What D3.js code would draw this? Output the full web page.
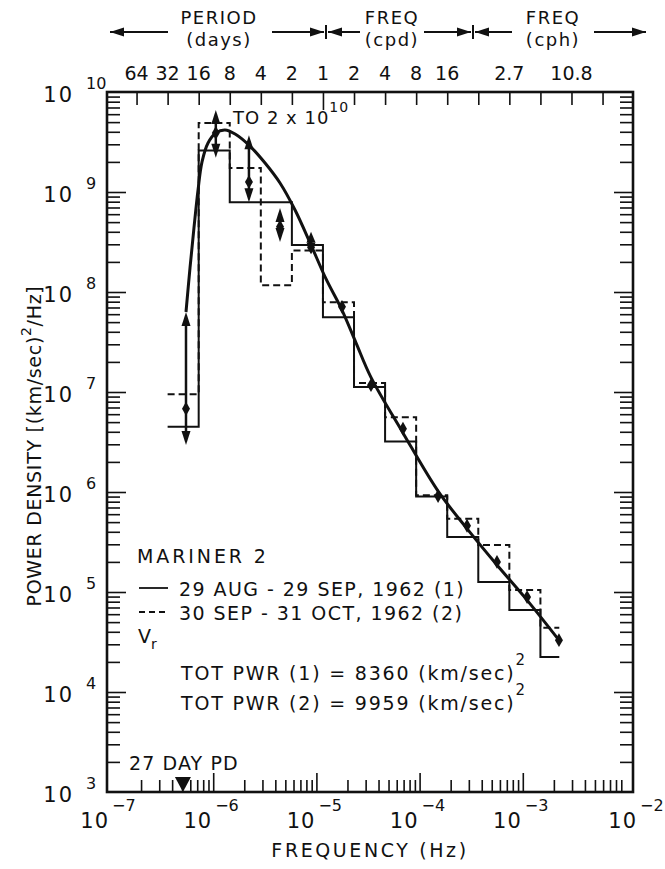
<!DOCTYPE html>
<html>
<head>
<meta charset="utf-8">
<script src="https://cdn.jsdelivr.net/npm/d3@7"></script>
<style>
  body { margin: 0; background: #fff; }
  text { font-family: "DejaVu Sans", sans-serif; fill: #111; }
</style>
</head>
<body>
<svg id="chart" width="665" height="869"></svg>
<script>
// ---- Data -------------------------------------------------------------
const SEC_PER_DAY = 86400;

// Band edges, cycles per day: octaves from 32 d, last band cut at the high-frequency limit
const bandEdgesCpd = [1/32, 1/16, 1/8, 1/4, 1/2, 1, 2, 4, 8, 16, 32, 64, 128, 195];

// Band power, (km/sec)^2/Hz, interval (1) 29 Aug - 29 Sep 1962
const power1 = [4.5e6, 2.6e9, 7.9e8, 7.9e8, 2.95e8, 5.6e7, 1.12e7, 3.2e6, 9.0e5, 3.55e5, 1.26e5, 6.6e4, 2.24e4];
// Band power, interval (2) 30 Sep - 31 Oct 1962
const power2 = [9.5e6, 4.9e9, 1.74e9, 1.17e8, 2.6e8, 7.9e7, 1.23e7, 5.6e6, 9.3e5, 5.4e5, 2.95e5, 1.05e5, 4.4e4];

// Combined estimates: frequency (Hz), power, and error range
const pointFreq  = [5.45e-7, 1.06e-6, 2.22e-6, 4.44e-6, 8.87e-6, 1.77e-5, 3.38e-5, 6.90e-5, 1.51e-4, 2.88e-4, 5.62e-4, 1.10e-3, 2.24e-3];
const pointPower = [6.8e6, 3.9e9, 1.26e9, 4.5e8, 2.8e8, 7.1e7, 1.17e7, 4.3e6, 9.1e5, 4.6e5, 2.0e5, 8.9e4, 3.3e4];
const errLow  = [2.95e6, 2.2e9, 7.9e8, 3.16e8, 2.45e8, null, null, null, null, null, null, null, null];
const errHigh = [6.3e7, 2e10, 3.7e9, 6.9e8, 4.0e8, null, null, null, null, null, null, null, null];
const errCap = 6.6e9;   // upper error arrows above this are cut short and annotated

// Smooth fitted spectrum
const fitFreq  = [5.45e-7, 5.96e-7, 6.51e-7, 7.13e-7, 7.79e-7, 8.91e-7, 1.06e-6, 1.30e-6, 1.63e-6, 2.27e-6, 3.18e-6, 4.44e-6, 6.21e-6, 8.87e-6, 1.24e-5, 1.77e-5, 2.42e-5, 3.38e-5, 6.90e-5, 1.51e-4, 2.88e-4, 5.62e-4, 1.10e-3, 2.24e-3];
const fitPower = [6.31e7, 1.74e8, 4.37e8, 1.05e9, 2.0e9, 3.09e9, 3.89e9, 4.17e9, 3.8e9, 2.88e9, 1.95e9, 1.23e9, 6.6e8, 2.95e8, 1.35e8, 6.6e7, 3.1e7, 1.4e7, 3.9e6, 1.02e6, 4.3e5, 1.86e5, 8.3e4, 3.3e4];

// Top scale: period / frequency ticks (cycles per day) and their labels
const topTickCpd = [1/64, 1/32, 1/16, 1/8, 1/4, 1/2, 1, 2, 4, 8, 16, 32, 64, 128, 256, 512];
const topLabelCpd  = [1/64, 1/32, 1/16, 1/8, 1/4, 1/2, 1, 2, 4, 8, 16, 64, 256];
const topLabelText = ["64", "32", "16", "8", "4", "2", "1", "2", "4", "8", "16", "2.7", "10.8"];

// Axis exponents
const xExponents = [-7, -6, -5, -4, -3, -2];
const yExponents = [3, 4, 5, 6, 7, 8, 9, 10];

// 27-day solar rotation marker (Hz)
const rotationFreq = 5.09e-7;

// ---- Layout -----------------------------------------------------------
const frame = { left: 107, right: 633, top: 92, bottom: 792 };
const ink = "#111";

const x = d3.scaleLog().domain([1e-7, 1e-2]).range([110, 626]);
const y = d3.scaleLog().domain([1e3, 1e10]).range([frame.bottom, frame.top]);
const cpdToHz = c => c / SEC_PER_DAY;

const svg = d3.select("#chart");
const isDecade = v => Math.abs(Math.log10(v) - Math.round(Math.log10(v))) < 1e-6;

// ---- Axes (ticks point inward) ----------------------------------------
function tickAxis(axisFn, scale, values, size, transform) {
  const g = svg.append("g").attr("transform", transform)
    .call(axisFn(scale).tickValues(values).tickSize(size).tickFormat(""));
  g.select(".domain").remove();
  g.selectAll(".tick line").attr("stroke", ink).attr("stroke-width", 1.6);
  return g;
}

const xAll = x.ticks();
const xMinor = xAll.filter(v => !isDecade(v));
const xMajor = xAll.filter(v => isDecade(v) && v > 1e-7 && v < 1e-2);
tickAxis(d3.axisTop, x, xMinor, 12, `translate(0,${frame.bottom})`);
tickAxis(d3.axisTop, x, xMajor, 19, `translate(0,${frame.bottom})`);

const yAll = y.ticks();
const yMinor = yAll.filter(v => !isDecade(v));
const yMajor = yAll.filter(v => isDecade(v) && v > 1e3 && v < 1e10);
tickAxis(d3.axisRight, y, yMinor, 13, `translate(${frame.left},0)`);
tickAxis(d3.axisRight, y, yMajor, 19, `translate(${frame.left},0)`);
tickAxis(d3.axisLeft, y, yMinor, 13, `translate(${frame.right},0)`);
tickAxis(d3.axisLeft, y, yMajor, 19, `translate(${frame.right},0)`);

const topHz = topTickCpd.map(cpdToHz);
tickAxis(d3.axisBottom, x, topHz.filter(v => v !== cpdToHz(1)), 13, `translate(0,${frame.top})`);
tickAxis(d3.axisBottom, x, [cpdToHz(1)], 18, `translate(0,${frame.top})`);

svg.append("rect")
  .attr("x", frame.left).attr("y", frame.top)
  .attr("width", frame.right - frame.left).attr("height", frame.bottom - frame.top)
  .attr("fill", "none").attr("stroke", ink).attr("stroke-width", 2.6);

// ---- Tick labels ------------------------------------------------------
const xl = svg.append("g");
xExponents.forEach(e => {
  // the corner label at 10^-2 sits a little to the right of its tick
  const px = x(Math.pow(10, e)) + (e === -2 ? 12 : 0);
  xl.append("text").attr("x", px - 1).attr("y", 828)
    .attr("text-anchor", "end").attr("font-size", 21).attr("letter-spacing", 1).text("10");
  xl.append("text").attr("x", px + 2).attr("y", 811)
    .attr("font-size", 16).text("\u2212" + Math.abs(e));
});

const yl = svg.append("g");
yExponents.forEach(e => {
  const py = y(Math.pow(10, e));
  yl.append("text").attr("x", 74).attr("y", py + 10)
    .attr("text-anchor", "end").attr("font-size", 21).attr("letter-spacing", 2).text("10");
  yl.append("text").attr("x", 86).attr("y", py - 3)
    .attr("font-size", 16).text(e);
});

svg.append("g").selectAll("text")
  .data(topLabelCpd)
  .join("text")
  .attr("x", d => x(cpdToHz(d)))
  .attr("y", 80)
  .attr("text-anchor", "middle")
  .attr("font-size", 19)
  .text((d, i) => topLabelText[i]);

// ---- Arrow helpers ----------------------------------------------------
function arrowHead(g, tipX, tipY, dx, dy, len, half) {
  const bx = tipX - dx * len, by = tipY - dy * len;
  const px = -dy * half, py = dx * half;
  g.append("path")
    .attr("d", `M${tipX},${tipY}L${bx + px},${by + py}L${bx - px},${by - py}Z`)
    .attr("fill", ink);
}
function hArrow(g, x1, x2, yy, dir) {
  g.append("line").attr("x1", x1).attr("x2", x2).attr("y1", yy).attr("y2", yy)
    .attr("stroke", ink).attr("stroke-width", 2);
  if (dir < 0) arrowHead(g, x1, yy, -1, 0, 14, 4.5);
  else arrowHead(g, x2, yy, 1, 0, 14, 4.5);
}

// ---- Header: period / frequency ranges --------------------------------
const hdr = svg.append("g");
const arrowY = 32;
hArrow(hdr, 110, 168, arrowY, -1);
hArrow(hdr, 272, 324, arrowY, 1);
hdr.append("line").attr("x1", 326).attr("x2", 326).attr("y1", arrowY - 7).attr("y2", arrowY + 7)
  .attr("stroke", ink).attr("stroke-width", 2);
hArrow(hdr, 328, 360, arrowY, -1);
hArrow(hdr, 424, 471, arrowY, 1);
hdr.append("line").attr("x1", 473).attr("x2", 473).attr("y1", arrowY - 7).attr("y2", arrowY + 7)
  .attr("stroke", ink).attr("stroke-width", 2);
hArrow(hdr, 475, 512, arrowY, -1);
hArrow(hdr, 594, 646, arrowY, 1);

[["PERIOD", "(days)", 219], ["FREQ", "(cpd)", 392], ["FREQ", "(cph)", 553]].forEach(([a, b, cx]) => {
  hdr.append("text").attr("x", cx).attr("y", 24).attr("text-anchor", "middle")
    .attr("font-size", 18).attr("letter-spacing", 1.5).text(a);
  hdr.append("text").attr("x", cx).attr("y", 46).attr("text-anchor", "middle")
    .attr("font-size", 18).attr("letter-spacing", 1.5).text(b);
});

// ---- Band histograms --------------------------------------------------
const bandEdgesHz = bandEdgesCpd.map(cpdToHz);
function bandPath(values) {
  const pts = [];
  values.forEach((v, i) => {
    pts.push([x(bandEdgesHz[i]), y(v)]);
    pts.push([x(bandEdgesHz[i + 1]), y(v)]);
  });
  return d3.line()(pts);
}
svg.append("path").attr("d", bandPath(power1))
  .attr("fill", "none").attr("stroke", ink).attr("stroke-width", 2);
svg.append("path").attr("d", bandPath(power2))
  .attr("fill", "none").attr("stroke", ink).attr("stroke-width", 2)
  .attr("stroke-dasharray", "7,4");

// ---- Fitted spectrum --------------------------------------------------
const fitLine = d3.line().curve(d3.curveCatmullRom.alpha(0.5))
  .x((d, i) => x(fitFreq[i])).y(d => y(d));
svg.append("path").attr("d", fitLine(fitPower))
  .attr("fill", "none").attr("stroke", ink).attr("stroke-width", 3)
  .attr("stroke-linejoin", "round");

// ---- Estimates with error arrows --------------------------------------
const pts = svg.append("g");
pointPower.forEach((p, i) => {
  const px = x(pointFreq[i]);
  if (errLow[i] != null) {
    const top = y(Math.min(errHigh[i], errCap));
    const bot = y(errLow[i]);
    pts.append("line").attr("x1", px).attr("x2", px).attr("y1", top + 6).attr("y2", bot - 6)
      .attr("stroke", ink).attr("stroke-width", 2.5);
    const len = Math.min(14, (bot - top) / 2);
    arrowHead(pts, px, top, 0, -1, len, 4.5);
    arrowHead(pts, px, bot, 0, 1, len, 4.5);
  }
  pts.append("path")
    .attr("transform", `translate(${px},${y(p)})`)
    .attr("d", d3.symbol(d3.symbolDiamond, 55)())
    .attr("fill", ink);
});

svg.append("text").attr("x", 233).attr("y", 124).attr("font-size", 18).attr("letter-spacing", 1)
  .text("TO 2 x 10")
  .append("tspan").attr("dy", -12).attr("font-size", 14).text("10");

// ---- Rotation marker ----------------------------------------------------
const rx = x(rotationFreq);
svg.append("path")
  .attr("d", `M${rx - 8},${frame.bottom - 15}L${rx + 8},${frame.bottom - 15}L${rx},${frame.bottom}Z`)
  .attr("fill", ink);
svg.append("text").attr("x", 129).attr("y", 770).attr("font-size", 19).attr("letter-spacing", 1.1)
  .text("27 DAY PD");

// ---- Legend / notes ---------------------------------------------------
const lg = svg.append("g");
lg.append("text").attr("x", 137).attr("y", 563).attr("font-size", 19).attr("letter-spacing", 2.9)
  .text("MARINER 2");
lg.append("line").attr("x1", 139).attr("x2", 168).attr("y1", 588).attr("y2", 588)
  .attr("stroke", ink).attr("stroke-width", 1.8);
lg.append("text").attr("x", 179).attr("y", 596).attr("font-size", 19).attr("letter-spacing", 1.45)
  .text("29 AUG - 29 SEP, 1962 (1)");
lg.append("line").attr("x1", 139).attr("x2", 168).attr("y1", 612).attr("y2", 612)
  .attr("stroke", ink).attr("stroke-width", 1.8).attr("stroke-dasharray", "6,4");
lg.append("text").attr("x", 179).attr("y", 620).attr("font-size", 19).attr("letter-spacing", 1.45)
  .text("30 SEP - 31 OCT, 1962 (2)");
const vr = lg.append("text").attr("x", 138).attr("y", 643).attr("font-size", 19).text("V");
vr.append("tspan").attr("dy", 6).attr("font-size", 14).text("r");
[["TOT PWR (1) = 8360 (km/sec)", 680], ["TOT PWR (2) = 9959 (km/sec)", 710]].forEach(([t, yy]) => {
  const tx = lg.append("text").attr("x", 181).attr("y", yy).attr("font-size", 19).attr("letter-spacing", 1.8).text(t);
  tx.append("tspan").attr("dy", -15).attr("font-size", 15).text("2");
});

// ---- Axis titles ------------------------------------------------------
svg.append("text").attr("x", (frame.left + frame.right) / 2).attr("y", 857)
  .attr("text-anchor", "middle").attr("font-size", 19).attr("letter-spacing", 2.6)
  .text("FREQUENCY (Hz)");

const yt = svg.append("text")
  .attr("transform", "translate(41,446) rotate(-90)")
  .attr("text-anchor", "middle").attr("font-size", 19).attr("letter-spacing", 0.7);
yt.append("tspan").text("POWER DENSITY [(km/sec)");
yt.append("tspan").attr("dy", -10).attr("font-size", 14).text("2");
yt.append("tspan").attr("dy", 10).text("/Hz]");
</script>
</body>
</html>
